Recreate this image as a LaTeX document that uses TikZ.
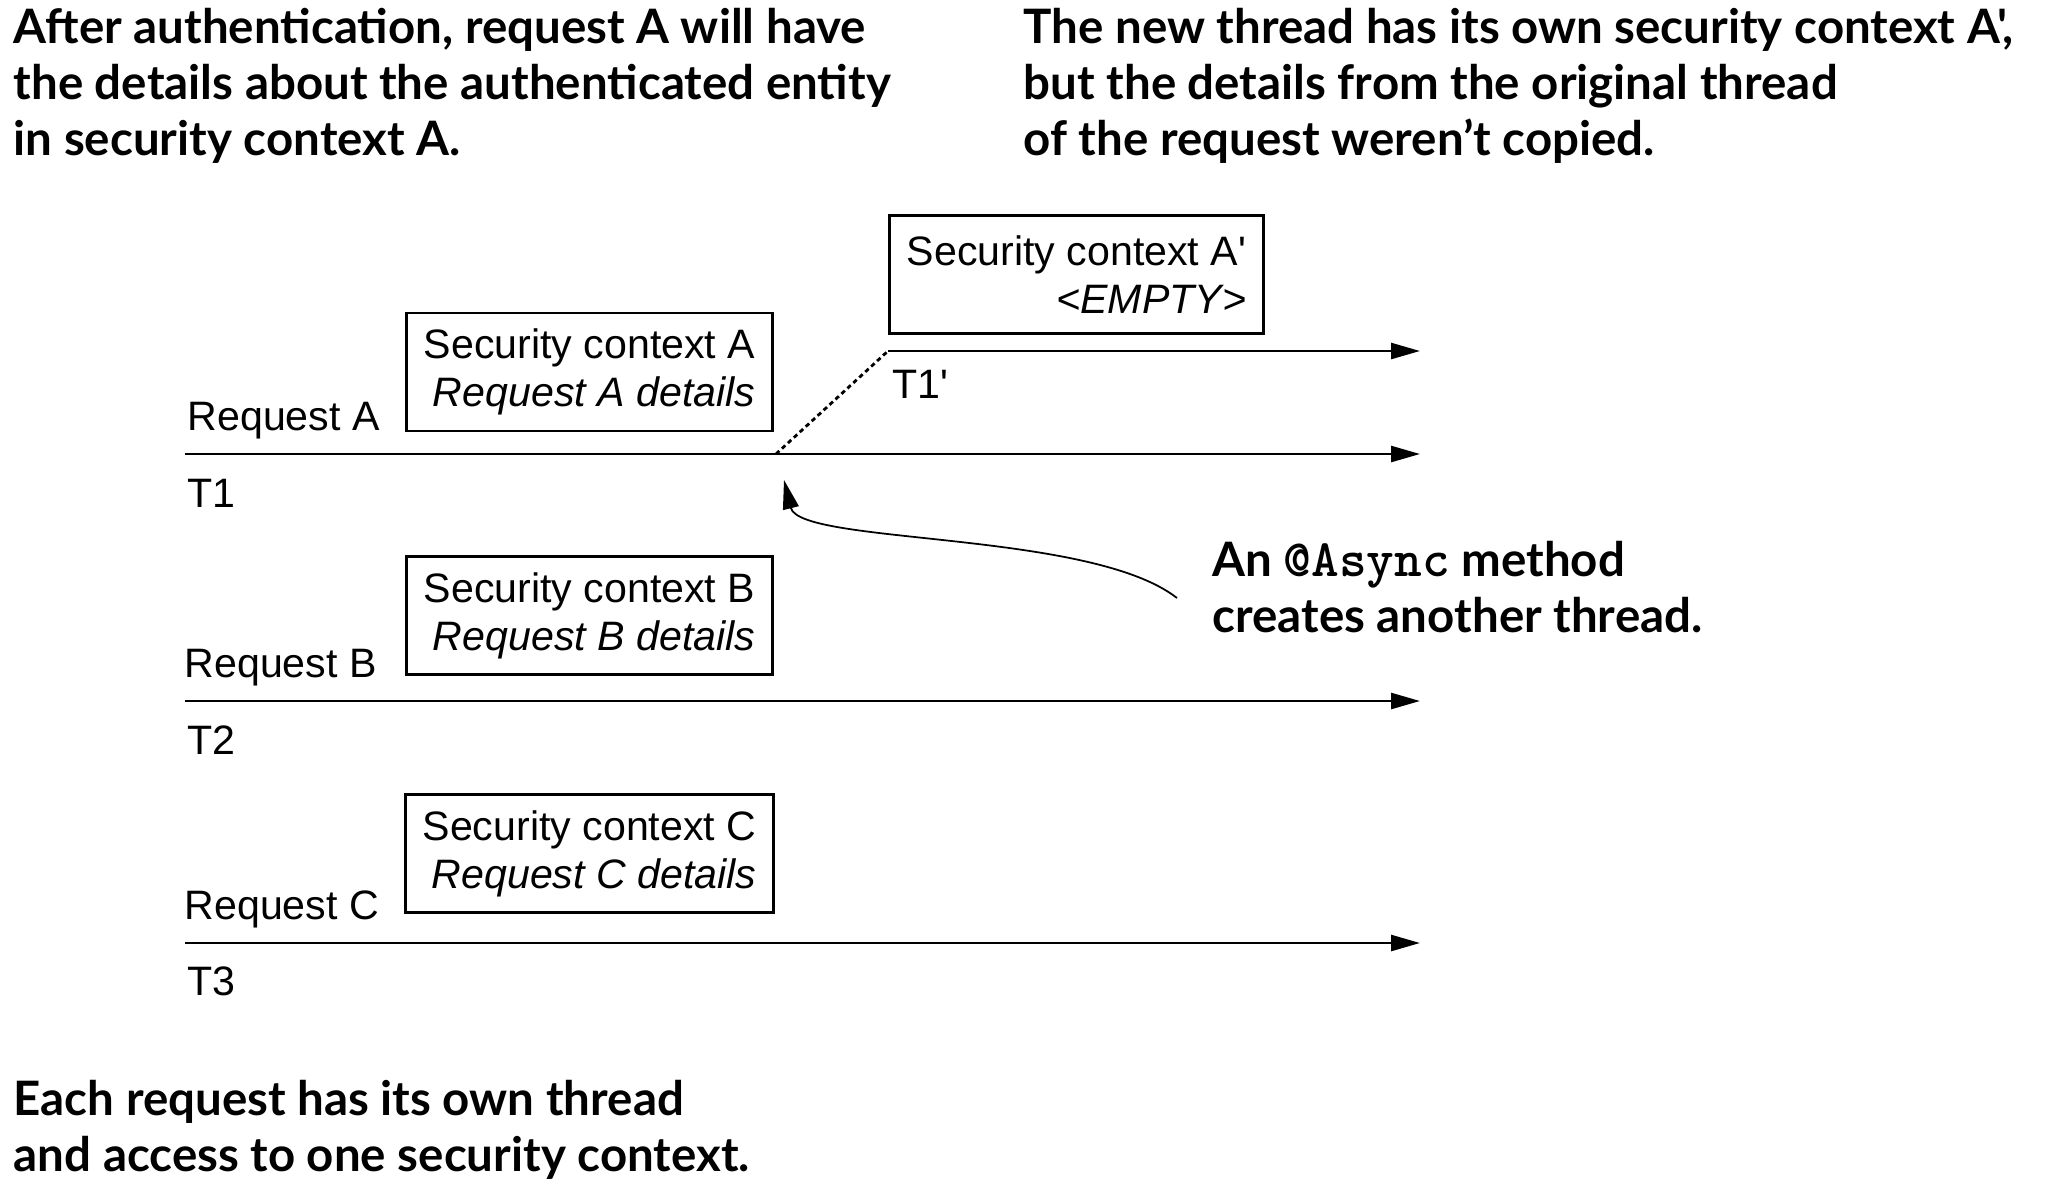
\documentclass[tikz,border=0pt]{standalone}
\usepackage{fontspec}
\setmainfont{Liberation Sans}[Ligatures=TeXOff]
\newfontfamily\notefont{Lato}
\usetikzlibrary{arrows.meta}

\begin{document}
\begin{tikzpicture}[
	x = 1cm, y = 1cm,
	every node/.style = {inner sep = 0pt},
	ctxbox/.style = {draw, line width = 0.8pt, align = right, inner xsep = 0.17cm,
		minimum height = 1.18cm, font = \fontsize{11.7}{13.7}\selectfont},
	lbl/.style = {anchor = base west, font = \fontsize{11.7}{13.7}\selectfont},
	note/.style = {anchor = north west, align = left,
		font = \notefont\bfseries\fontsize{13.5}{15.9}\selectfont},
	thread/.style = {line width = 0.75pt, -{Triangle[length=2.9mm,width=1.6mm]}}
	]
	\useasboundingbox (0,0) rectangle (20.48,-11.94);

	% notes
	\node[note] (noteA) at (0.13,-0.08) {After authentication, request A will have\\the details about the authenticated entity\\in security context A.};
	\node[note] (noteNew) at (10.23,-0.08) {The new thread has its own security context A',\\but the details from the original thread\\of the request weren’t copied.};
	\node[note] (noteAsync) at (12.12,-5.41) {An {\ttfamily\fontsize{15}{15.9}\selectfont @Async} method\\creates another thread.};
	\node[note] (noteEach) at (0.13,-10.80) {Each request has its own thread\\and access to one security context.};

	% security contexts
	\node[ctxbox] (ctxA) at (5.895,-3.72) {Security context A\\\textit{Request A details}};
	\node[ctxbox] (ctxB) at (5.895,-6.155) {Security context B\\\textit{Request B details}};
	\node[ctxbox] (ctxC) at (5.895,-8.535) {Security context C\\\textit{Request C details}};
	\node[ctxbox] (ctxAp) at (10.765,-2.745) {Security context A'\\\textit{<EMPTY>}};

	% threads
	\coordinate (t1s) at (1.85,-4.54);
	\coordinate (t1e) at (14.20,-4.54);
	\coordinate (t2s) at (1.85,-7.01);
	\coordinate (t2e) at (14.20,-7.01);
	\coordinate (t3s) at (1.85,-9.43);
	\coordinate (t3e) at (14.20,-9.43);
	\coordinate (fork) at (7.76,-4.54);
	\coordinate (t1ps) at (8.88,-3.51);
	\coordinate (t1pe) at (14.20,-3.51);

	\draw[thread] (t1s) -- (t1e);
	\draw[thread] (t2s) -- (t2e);
	\draw[thread] (t3s) -- (t3e);
	\draw[thread] (t1ps) -- (t1pe);
	\draw[line width = 0.8pt, dash pattern = on 1.3pt off 1pt] (fork) -- (t1ps);

	\node[lbl] (reqA) at (1.87,-4.30) {Request A};
	\node[lbl] (thA) at (1.87,-5.07) {T1};
	\node[lbl] (reqB) at (1.84,-6.77) {Request B};
	\node[lbl] (thB) at (1.87,-7.54) {T2};
	\node[lbl] (reqC) at (1.84,-9.19) {Request C};
	\node[lbl] (thC) at (1.87,-9.95) {T3};
	\node[lbl] (thAp) at (8.92,-3.98) {T1'};

	% async call
	\coordinate (asyncFrom) at (11.77,-5.98);
	\coordinate (asyncTo) at (7.84,-4.80);
	\draw[line width = 0.5pt, -{Triangle[length=2.9mm,width=1.6mm]}] (asyncFrom) .. controls (10.90,-5.30) and (8.00,-5.45) .. (asyncTo);

\end{tikzpicture}
\end{document}
